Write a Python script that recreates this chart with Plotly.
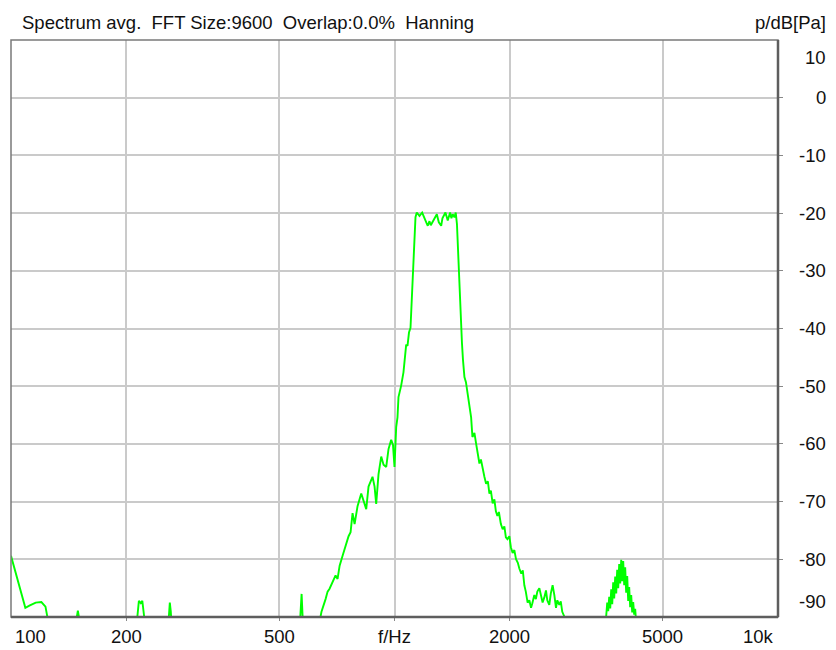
import math
import plotly.graph_objects as go

# ---- data (frequency in Hz, level in dB re 1 Pa) ----
freq_hz = [
    100, 103, 106, 109, 112, 116, 120, 123, 126, 140,
    146, 149.4, 153, 170, 210, 213, 215.5, 218, 220, 222.5,
    226, 255, 258, 259.5, 261, 264, 400, 560, 568, 572.5,
    576, 582, 620, 645, 661.1, 669.2, 677.1, 689.4, 702.0, 710.5,
    719.3, 732.2, 748.6, 759.0, 768.2, 777.4, 786.9, 801.0, 819.0, 830.4,
    843.9, 855.6, 876.3, 887.2, 895.9, 908.4, 923.3, 936.3, 951.5, 964.6,
    980.4, 991.0, 1000, 1010.2, 1018.1, 1024.2, 1040.8, 1055.3, 1072.7, 1081.2,
    1090.9, 1100.8, 1109.4, 1116.1, 1122.0, 1127.5, 1134.3, 1143.1, 1161.8, 1180.6,
    1197, 1211.6, 1221.2, 1233.5, 1243.4, 1254.0, 1271, 1289.3, 1304.9, 1323.6,
    1333.5, 1341.6, 1357.8, 1376.7, 1396.4, 1407.4, 1418.5, 1433.3, 1444.3, 1454.9,
    1462.0, 1469.9, 1477.0, 1486.0, 1492.2, 1499.4, 1508.4, 1521.8, 1535.6, 1552.3,
    1568.1, 1584.1, 1596.6, 1615.8, 1632.6, 1650.1, 1665, 1680.1, 1698.2, 1715.6,
    1733.0, 1751.7, 1768, 1783.6, 1803.0, 1821.6, 1838.1, 1854.7, 1871.5, 1894.0,
    1914.3, 1934, 1951.8, 1969.5, 1993, 2011.0, 2032.9, 2053.5, 2074.4, 2097.0,
    2116, 2141.1, 2160.5, 2180.5, 2199.8, 2223.9, 2247, 2270.0, 2288.0, 2315,
    2336.4, 2357.5, 2386, 2407.4, 2433.4, 2458.5, 2483.1, 2502.7, 2533, 2556.3,
    2583.9, 2611, 2637.1, 2658.0, 2690, 2713.7, 2738.2, 2772, 2860, 3419,
    3565, 3587, 3608, 3630, 3652, 3674, 3696, 3718, 3740, 3763,
    3786, 3808, 3831, 3854, 3877, 3901, 3924, 3948, 3972, 3995,
    4019, 4044, 4068, 4092, 4117, 4142, 4167, 4192, 4217, 4242,
    4268, 4477, 9990,
]
level_db = [
    -79.4, -82.5, -85.4, -88.4, -88.0, -87.5, -87.4, -88.2, -92.0, -95.0,
    -93.0, -88.9, -93.0, -95.0, -95.0, -90.0, -87.2, -87.6, -87.2, -90.0,
    -95.0, -95.0, -89.0, -87.5, -89.0, -95.0, -95.0, -95.0, -90.0, -86.0,
    -90.0, -95.0, -95.0, -89.1, -86.9, -85.6, -85.1, -83.9, -82.8, -83.4,
    -81.1, -79.4, -77.2, -76.0, -75.3, -72.0, -73.9, -70.8, -68.6, -69.9,
    -71.3, -67.4, -65.7, -67.4, -70.4, -65.3, -62.2, -63.6, -64.0, -60.9,
    -59.3, -60.2, -64.0, -57.1, -55.4, -51.9, -49.9, -47.6, -42.8, -43.0,
    -40.7, -39.9, -34.8, -31.3, -26.2, -22.7, -20.7, -19.9, -20.5, -19.9,
    -21.0, -21.7, -22.2, -21.4, -22.1, -21.6, -21.0, -20.2, -21.6, -22.2,
    -20.9, -20.5, -19.9, -21.3, -19.9, -20.9, -20.2, -20.7, -19.9, -21.9,
    -25.6, -29.6, -33.0, -36.8, -39.9, -42.5, -45.4, -48.4, -49.3, -51.4,
    -54.1, -55.4, -58.8, -58.1, -60.0, -61.9, -63.4, -62.7, -64.5, -65.7,
    -66.9, -66.5, -68.6, -68.1, -70.3, -69.6, -71.7, -72.5, -71.8, -73.9,
    -74.8, -74.3, -76.2, -76.5, -76.0, -77.9, -78.9, -78.4, -80.0, -80.6,
    -81.6, -82.5, -81.9, -84.5, -85.6, -87.5, -87.1, -88.4, -87.6, -86.2,
    -86.9, -85.6, -85.0, -86.2, -87.5, -86.6, -85.4, -87.1, -87.9, -85.9,
    -84.5, -86.2, -88.4, -87.1, -87.9, -87.3, -89.1, -89.9, -95.0, -95.0,
    -89.8, -87.5, -89.0, -86.5, -88.5, -85.2, -87.8, -84.0, -86.8, -83.0,
    -85.9, -81.8, -85.0, -80.8, -84.2, -80.1, -83.8, -80.3, -84.5, -81.4,
    -85.8, -82.9, -87.2, -84.8, -88.3, -86.2, -89.2, -87.4, -89.6, -88.6,
    -91.0, -95.0, -95.0,
]

x_grid = [200, 500, 1000, 2000, 5000]
x_tick_text = ["200", "500", "f/Hz", "2000", "5000"]
x_edge_text = ["100", "10k"]
x_range_hz = [100, 10000]
y_grid = [0, -10, -20, -30, -40, -50, -60, -70, -80]
y_range_db = [-90, 10]
y_edge_text = ["10", "-90"]
title_text = "Spectrum avg.  FFT Size:9600  Overlap:0.0%  Hanning"
unit_text = "p/dB[Pa]"

FONT = dict(family="Liberation Sans, Arial, sans-serif", size=18.5, color="#111111")

fig = go.Figure()
fig.add_trace(go.Scatter(
    x=freq_hz, y=level_db, mode="lines",
    line=dict(color="#00ff00", width=1.9),
    hoverinfo="skip", showlegend=False,
))

fig.update_layout(
    width=836, height=650,
    margin=dict(l=11, r=58, t=40, b=33),
    paper_bgcolor="white", plot_bgcolor="white",
    showlegend=False,
    xaxis=dict(
        type="log", range=[math.log10(v) for v in x_range_hz], tickvals=x_grid,
        showticklabels=False,
        showgrid=True, gridcolor="#cacaca", gridwidth=1.5,
        ticks="outside", ticklen=3, tickcolor="#888888",
        zeroline=False, showline=False, fixedrange=True,
    ),
    yaxis=dict(
        range=y_range_db, tickvals=y_grid, showticklabels=False, side="right",
        showgrid=True, gridcolor="#cacaca", gridwidth=1.5,
        ticks="outside", ticklen=4, tickcolor="#888888",
        zeroline=False, showline=False, fixedrange=True,
    ),
)

# frame
fig.add_shape(type="rect", xref="paper", yref="paper", x0=0, x1=1, y0=0, y1=1,
              line=dict(color="#7a7a7a", width=1.5), layer="above")
fig.add_shape(type="line", xref="paper", yref="paper", x0=1, x1=1, y0=0, y1=1,
              line=dict(color="#5e5e5e", width=2.5), layer="above")
fig.add_shape(type="line", xref="paper", yref="paper", x0=0, x1=1, y0=0, y1=0,
              line=dict(color="#5e5e5e", width=2.5), layer="above")

ann = []
# x tick labels (annotations on a log axis take log10 positions)
for v, t in zip(x_grid, x_tick_text):
    ann.append(dict(x=math.log10(v), xref="x", y=0, yref="paper", text=t, showarrow=False,
                    xanchor="center", yanchor="middle", yshift=-19, font=FONT))
ann.append(dict(x=0, xref="paper", y=0, yref="paper", text=x_edge_text[0], showarrow=False,
                xanchor="center", yanchor="middle", yshift=-19, xshift=19, font=FONT))
ann.append(dict(x=1, xref="paper", y=0, yref="paper", text=x_edge_text[1], showarrow=False,
                xanchor="center", yanchor="middle", yshift=-19, xshift=-20, font=FONT))
# y tick labels (right aligned)
for v in y_grid:
    ann.append(dict(x=1, xref="paper", y=v, yref="y", text=str(v), showarrow=False,
                    xanchor="right", yanchor="middle", xshift=50, font=FONT))
ann.append(dict(x=1, xref="paper", y=1, yref="paper", text=y_edge_text[0], showarrow=False,
                xanchor="right", yanchor="middle", xshift=50, yshift=-17, font=FONT))
ann.append(dict(x=1, xref="paper", y=0, yref="paper", text=y_edge_text[1], showarrow=False,
                xanchor="right", yanchor="middle", xshift=50, yshift=16, font=FONT))
# header texts
ann.append(dict(x=0, xref="paper", y=1, yref="paper", text=title_text.replace("  ", "&nbsp;&nbsp;"),
                showarrow=False, xanchor="left", yanchor="middle", xshift=9, yshift=18, font=FONT))
ann.append(dict(x=1, xref="paper", y=1, yref="paper", text=unit_text,
                showarrow=False, xanchor="right", yanchor="middle", xshift=50, yshift=18, font=FONT))
fig.update_layout(annotations=ann)

fig.write_html(
    "out.html",
    config={"displayModeBar": False},
    post_script="document.body.style.margin='0';document.body.style.overflow='hidden';",
)
